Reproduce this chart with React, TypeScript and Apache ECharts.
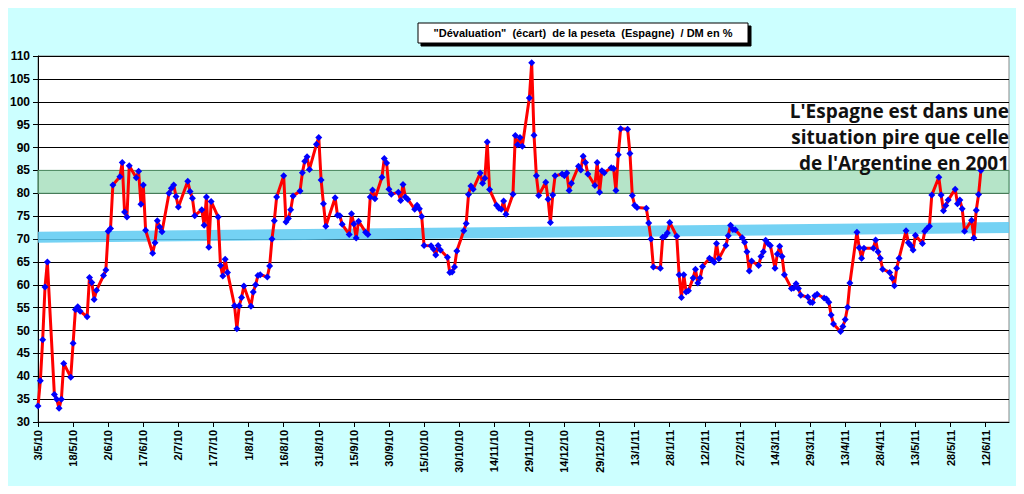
import { useEffect, useRef } from "react";
import * as echarts from "echarts";

// day offset from 3/5/2010
const days = [
  0, 1, 2, 3, 4, 7, 8, 9, 10, 11, 14, 15, 16, 17, 18, 21, 22, 23, 24, 25, 28, 29, 30, 31, 32,
  35, 36, 37, 38, 39, 42, 43, 44, 45, 46, 49, 50, 51, 52, 53, 56, 57, 58, 59, 60, 64, 65, 66, 67,
  70, 71, 72, 73, 74, 77, 78, 79, 80, 81, 84, 85, 86, 87, 88, 91, 92, 93, 94, 95, 98, 99, 100,
  101, 102, 105, 106, 107, 108, 109, 112, 113, 114, 115, 116, 119, 120, 121, 122, 123, 127, 128,
  129, 130, 133, 134, 135, 136, 137, 140, 141, 142, 143, 144, 147, 148, 149, 150, 151, 154, 155,
  156, 157, 158, 161, 162, 163, 164, 165, 168, 169, 170, 171, 172, 175, 176, 177, 178, 179, 182,
  183, 184, 185, 186, 189, 190, 191, 192, 193, 196, 197, 198, 199, 200, 203, 204, 205, 206, 207,
  210, 211, 212, 213, 214, 217, 218, 219, 220, 221, 224, 225, 226, 227, 228, 231, 232, 233, 234,
  235, 238, 239, 240, 241, 242, 245, 246, 247, 248, 249, 252, 253, 254, 255, 256, 260, 261, 262,
  263, 266, 267, 268, 269, 270, 273, 274, 275, 276, 277, 278, 280, 281, 282, 283, 284, 287, 288,
  289, 290, 291, 294, 295, 296, 297, 298, 301, 302, 303, 304, 305, 308, 309, 310, 311, 312, 313,
  315, 316, 317, 318, 319, 322, 323, 324, 325, 326, 329, 330, 331, 332, 333, 336, 337, 338, 339,
  340, 343, 344, 345, 346, 347, 350, 351, 352, 353, 357, 358, 359, 360, 361, 364, 365, 366, 367,
  368, 371, 372, 373, 374, 375, 378, 379, 380, 381, 382, 385, 386, 387, 388, 389, 392, 393, 394,
  395, 396, 399, 400, 401, 402, 403,
];
const values = [
  33.5, 39, 48, 59.5, 65, 36, 35, 33, 35, 42.8, 39.8, 47.2, 54.6, 55.2, 54.2, 53, 61.6, 60.5,
  56.8, 58.8, 62, 63.2, 71.7, 72.3, 81.8, 83.6, 86.7, 75.9, 74.8, 86, 83.4, 84.8, 77.6, 81.8,
  71.9, 66.9, 69.2, 74, 72.6, 71.6, 80, 81.1, 81.8, 79.3, 77, 82.6, 80.4, 78.9, 75.1, 76.4, 73,
  79.2, 68.2, 78.2, 74.8, 64.2, 61.9, 65.6, 62.7, 55.4, 50.4, 55.4, 57.2, 59.7, 55.3, 58.4, 60,
  62, 62.2, 61.7, 64.1, 70, 74, 79.2, 83.8, 73.7, 74.5, 76.4, 79.4, 80.5, 84.5, 87, 88, 85.2,
  90.7, 92.2, 82.9, 77.7, 72.8, 79, 75.2, 75.1, 73.2, 71, 75.5, 73.3, 70.2, 73.9, 71.5, 71, 79.2,
  80.7, 78.8, 83.5, 87.6, 86.6, 80.9, 79.8, 80.2, 78.4, 81.9, 79.2, 78.7, 76.5, 77.4, 76.6, 74.9,
  68.6, 68.5, 67.8, 66.5, 68.6, 67.6, 66, 62.7, 62.8, 63.9, 67.4, 71.8, 73.4, 79.7, 81.6, 80.9,
  84.4, 82.2, 83.3, 91.2, 80.8, 77.4, 76.7, 76.5, 78.3, 75.4, 79.8, 92.6, 90.6, 92.2, 90.3, 100.8,
  108.5, 92.7, 83.8, 79.5, 82.4, 78.7, 73.6, 79.6, 83.8, 84.2, 83.8, 84.4, 80.6, 82.2, 85.9, 85.1,
  88.1, 86.7, 84.2, 81.7, 86.7, 80.2, 84.9, 84.5, 85.6, 85.4, 80.6, 88.4, 94.1, 94, 88.7, 79.5,
  77.4, 76.9, 76.7, 73.5, 70, 63.9, 63.6, 70.4, 70.6, 71.3, 73.6, 70.6, 62.2, 57.2, 62.2, 58.4,
  58.7, 61.5, 63.4, 60.4, 61.5, 64, 65.8, 65.4, 64.9, 69, 65.7, 68.6, 70.7, 73, 72.1, 72, 70.3,
  69.3, 67.2, 63, 65.2, 64.2, 66.2, 67.2, 69.7, 69, 68.6, 63.6, 66.7, 68.4, 66.2, 62.2, 59.2,
  59.3, 60.2, 59.2, 57.7, 57.3, 56.2, 56.1, 57.6, 57.9, 57.1, 56.9, 56.2, 53.4, 51.4, 49.8, 50.9,
  52.4, 55.1, 60.4, 71.5, 68.1, 65.8, 68, 68, 69.8, 67.2, 65.8, 63.4, 62.7, 61.5, 59.8, 63.6,
  65.8, 71.8, 69.2, 68.6, 67.6, 70.8, 69, 71.7, 72.3, 72.8, 79.6, 83.5, 79.6, 76.2, 77.3, 78.5,
  80.9, 77.7, 78.5, 76.6, 71.7, 74.1, 70.2, 76.3, 79.7, 85,
];
const trendBand = [
  [0, 70.4],
  [415, 72.5],
];
const zoneLow = 80;
const zoneHigh = 85;
const yTicks = [30, 110, 5];

const startDate = Date.UTC(2010, 4, 3);
const dayLabel = (d: number) => {
  const dt = new Date(startDate + d * 86400000);
  return `${dt.getUTCDate()}/${dt.getUTCMonth() + 1}/${String(dt.getUTCFullYear()).slice(2)}`;
};

const App = () => {
  const chartRef = useRef<HTMLDivElement>(null);

  useEffect(() => {
    if (!chartRef.current) return;
    const chart = echarts.init(chartRef.current, undefined, { renderer: "svg" });

    const options = {
      animation: false,
      backgroundColor: "#ccffff",
      textStyle: { fontFamily: "Liberation Sans, Arial, sans-serif" },
      grid: {
        left: 38,
        right: 15,
        top: 56,
        bottom: 72,
        show: true,
        backgroundColor: "#ffffff",
        borderColor: "#888",
        borderWidth: 1,
      },
      graphic: [
        {
          type: "rect",
          shape: { x: 418, y: 23, width: 330, height: 20 },
          style: { fill: "#fff", stroke: "#000", lineWidth: 1, shadowColor: "#000", shadowOffsetX: 3, shadowOffsetY: 3 },
        },
        {
          type: "text",
          x: 583,
          y: 33,
          style: {
            text: '"Dévaluation"  (écart)  de la peseta  (Espagne)  / DM en %',
            font: "bold 11px Liberation Sans, Arial, sans-serif",
            fill: "#000",
            align: "center",
            verticalAlign: "middle",
          },
        },
        ...["L'Espagne est dans une", "situation pire que celle", "de l'Argentine en 2001"].map((t, i) => ({
          type: "text",
          x: 1009,
          y: 111 + i * 26,
          z: 10,
          style: {
            text: t,
            font: "bold 19px Open Sans, Noto Sans, sans-serif",
            fill: "#111",
            align: "right",
            verticalAlign: "middle",
          },
        })),
      ],
      xAxis: {
        type: "value",
        min: 0,
        max: 415,
        interval: 15,
        splitLine: { show: false },
        axisLine: { lineStyle: { color: "#000" } },
        axisTick: { lineStyle: { color: "#000" } },
        axisLabel: {
          rotate: 90,
          color: "#000",
          fontWeight: "bold",
          fontSize: 11,
          showMaxLabel: false,
          formatter: (v: number) => dayLabel(v),
        },
      },
      yAxis: {
        type: "value",
        min: yTicks[0],
        max: yTicks[1],
        interval: yTicks[2],
        axisLine: { show: true, lineStyle: { color: "#000" } },
        axisTick: { show: true, lineStyle: { color: "#000" } },
        axisLabel: { color: "#000", fontWeight: "bold", fontSize: 12 },
        splitLine: { lineStyle: { color: "#000", width: 1 } },
      },
      series: [
        {
          type: "line",
          data: trendBand,
          symbol: "none",
          silent: true,
          lineStyle: { color: "#5ccaf2", width: 11, opacity: 0.85 },
          markArea: {
            silent: true,
            itemStyle: { color: "rgba(120,205,155,0.55)", borderColor: "#5a9a70", borderWidth: 1 },
            data: [[{ yAxis: zoneLow }, { yAxis: zoneHigh }]],
          },
        },
        {
          type: "line",
          data: days.map((d, i) => [d, values[i]]),
          symbol: "diamond",
          symbolSize: 7,
          itemStyle: { color: "#0000ff" },
          lineStyle: { color: "#ff0000", width: 3 },
        },
      ],
    };

    chart.setOption(options);
    return () => chart.dispose();
  }, []);

  return <div ref={chartRef} style={{ width: "1024px", height: "494px", margin: "-8px" }} />;
};

export default App;
